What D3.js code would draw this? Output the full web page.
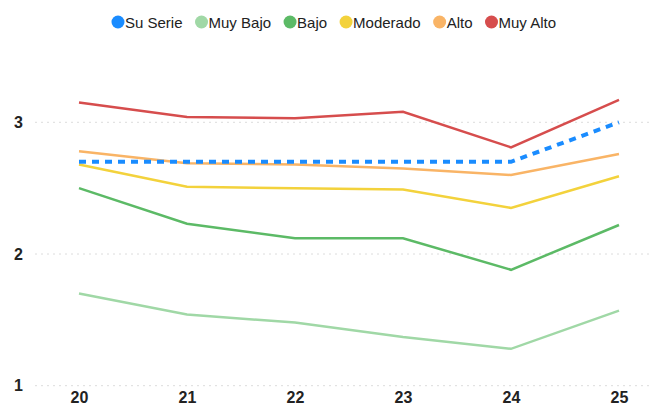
<!DOCTYPE html>
<html><head><meta charset="utf-8">
<script src="https://cdn.jsdelivr.net/npm/d3@7"></script>
<style>body{margin:0;background:#fff;}svg{display:block;font-family:"Liberation Sans",Arial,sans-serif;}</style>
</head><body><svg id="c" width="650" height="409"></svg>
<script>
const categories = ["20","21","22","23","24","25"];
const seriesNames = ["Su Serie","Muy Bajo","Bajo","Moderado","Alto","Muy Alto"];
const suSerie  = [2.70,2.70,2.70,2.70,2.70,3.00];
const muyBajo  = [1.70,1.54,1.48,1.37,1.28,1.57];
const bajo     = [2.50,2.23,2.12,2.12,1.88,2.22];
const moderado = [2.68,2.51,2.50,2.49,2.35,2.59];
const alto     = [2.78,2.69,2.68,2.65,2.60,2.76];
const muyAlto  = [3.15,3.04,3.03,3.08,2.81,3.17];
const yTicks = [1,2,3];
const colors = ["#1a8cff","#a0d8a6","#5cba66","#f3d23c","#f9b466","#d64d4d"];

const series = [suSerie,muyBajo,bajo,moderado,alto,muyAlto];
const svg = d3.select("#c");

const x = d3.scalePoint().domain(categories).range([79,619]);
const y = d3.scaleLinear().domain([1,3]).range([385.7,122.3]);

// grid
const grid = svg.append("g");
yTicks.forEach(t=>{
  grid.append("line").attr("x1",35).attr("x2",650).attr("y1",y(t)).attr("y2",y(t))
    .attr("stroke","#dcdcdc").attr("stroke-width",1).attr("stroke-dasharray","2,4");
});
// y axis labels
const yAxis = d3.axisLeft(y).tickValues(yTicks).tickSize(0).tickPadding(0).tickFormat(d3.format("d"));
const ya = svg.append("g").attr("transform","translate(23,0)").call(yAxis);
ya.select(".domain").remove();
ya.selectAll("text").attr("font-size",16).attr("font-weight","bold").attr("fill","#222").attr("font-family","Liberation Sans, Arial, sans-serif");

const xAxis = d3.axisBottom(x).tickSize(0).tickPadding(0);
const xa = svg.append("g").attr("transform","translate(0,392)").call(xAxis);
xa.select(".domain").remove();
xa.selectAll("text").attr("font-size",16).attr("font-weight","bold").attr("fill","#222").attr("font-family","Liberation Sans, Arial, sans-serif");

const line = d3.line().x((d,i)=>x(categories[i])).y(d=>y(d));
// draw in order so Su Serie is on top
[1,2,3,4,5,0].forEach(k=>{
  const p = svg.append("path").datum(series[k]).attr("d",line)
    .attr("fill","none").attr("stroke",colors[k]).attr("stroke-linejoin","miter");
  if(k===0){ p.attr("stroke-width",4).attr("stroke-dasharray","7,6"); }
  else { p.attr("stroke-width",2.5); }
});

// legend
const leg = svg.append("g");
let cx = 0;
seriesNames.forEach((n,i)=>{
  const g = leg.append("g");
  g.append("circle").attr("cx",6).attr("cy",0).attr("r",6.5).attr("fill",colors[i]);
  const t = g.append("text").attr("x",13).attr("y",5.5).attr("font-size",15).attr("fill","#222").text(n);
  const w = 13 + t.node().getComputedTextLength();
  g.attr("transform",`translate(${cx},22)`);
  cx += w + 13;
});
const total = cx - 13;
leg.attr("transform",`translate(${334 - total/2},0)`);
</script></body></html>
